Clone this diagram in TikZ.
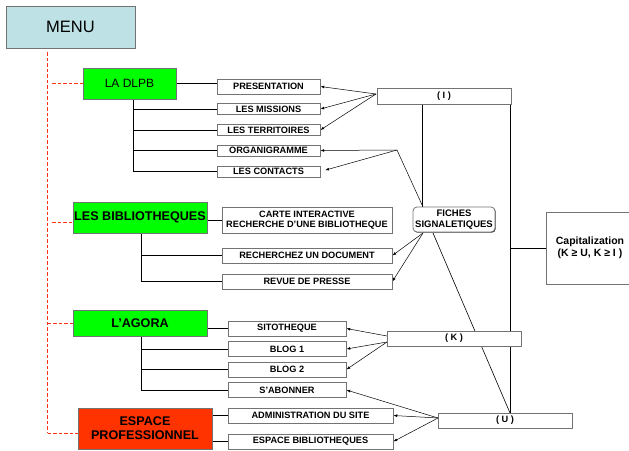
\documentclass[tikz,border=0pt]{standalone}
\usepackage{fontspec}
\setmainfont{Liberation Sans}
\usetikzlibrary{arrows.meta,backgrounds,shadows}
\definecolor{menublue}{RGB}{189,225,229}
\definecolor{limeg}{RGB}{0,255,0}
\definecolor{espred}{RGB}{255,51,0}
\definecolor{dashred}{RGB}{255,50,20}
\tikzset{
  bx/.style={draw=black!55, line width=0.8pt, fill=white, inner sep=0pt, align=center,
    font=\fontsize{9.2}{10.5}\selectfont\bfseries,
    drop shadow={shadow xshift=0.7pt,shadow yshift=-0.7pt,opacity=1,fill=black!85}},
  bigbx/.style={bx, font=\fontsize{12.6}{14}\selectfont\bfseries},
  txt/.style={inner sep=0pt, align=center, font=\fontsize{10.5}{12.5}\selectfont\bfseries},
  ln/.style={black, line width=0.8pt},
  arr/.style={black, line width=0.5pt, -{Latex[length=3.8pt,width=2.8pt]}},
  dsh/.style={draw=dashred, line width=1pt, dash pattern=on 3.5pt off 2pt},
}
\begin{document}
\begin{tikzpicture}[x=1pt,y=-1pt]
\useasboundingbox (0,0) rectangle (629,450);
% main nodes
\node[bx, fill=menublue, minimum width=129pt, minimum height=42pt, font=\fontsize{16.5}{18}\selectfont] (menu) at (70.5,27) {MENU};
\node[bx, fill=limeg, minimum width=93pt, minimum height=31pt, font=\fontsize{12}{14}\selectfont] (dlpb) at (129.5,83.5) {LA DLPB};
\node[bigbx, fill=limeg, minimum width=134pt, minimum height=31pt] (bib) at (140,217.5) {LES BIBLIOTHEQUES};
\node[bigbx, fill=limeg, minimum width=134pt, minimum height=26pt] (agora) at (140,323) {L'AGORA};
\node[bigbx, fill=espred, minimum width=134pt, minimum height=41pt] (esp) at (145,428.5) {ESPACE\\PROFESSIONNEL};
% sub boxes
\node[bx, minimum width=103pt, minimum height=15pt] (pres) at (268.5,86.5) {PRESENTATION};
\node[bx, minimum width=103pt, minimum height=11pt] (miss) at (268.5,109) {LES MISSIONS};
\node[bx, minimum width=103pt, minimum height=11pt] (terr) at (268.5,130) {LES TERRITOIRES};
\node[bx, minimum width=103pt, minimum height=11pt] (org) at (268.5,150.5) {ORGANIGRAMME};
\node[bx, minimum width=103pt, minimum height=11pt] (cont) at (268.5,171.5) {LES CONTACTS};
\node[bx, minimum width=170pt, minimum height=26pt] (carte) at (307,220) {CARTE INTERACTIVE\\RECHERCHE D'UNE BIBLIOTHEQUE};
\node[bx, minimum width=170pt, minimum height=15pt] (rech) at (307,255.5) {RECHERCHEZ UN DOCUMENT};
\node[bx, minimum width=170pt, minimum height=15pt] (revue) at (307,281.5) {REVUE DE PRESSE};
\node[bx, minimum width=118pt, minimum height=15pt] (sito) at (287,328.5) {SITOTHEQUE};
\node[bx, minimum width=118pt, minimum height=15pt] (blog1) at (287,349) {BLOG 1};
\node[bx, minimum width=118pt, minimum height=15pt] (blog2) at (287,369.5) {BLOG 2};
\node[bx, minimum width=118pt, minimum height=15pt] (abon) at (287,390) {S'ABONNER};
\node[bx, minimum width=165pt, minimum height=15pt] (admin) at (310.5,415.5) {ADMINISTRATION DU SITE};
\node[bx, minimum width=165pt, minimum height=15pt] (espbib) at (310.5,441.5) {ESPACE BIBLIOTHEQUES};
% right side
\node[bx, minimum width=134pt, minimum height=16pt] (I) at (444,96) {( I )};
\node[bx, rounded corners=4pt, minimum width=82pt, minimum height=25pt, font=\fontsize{9.5}{11}\selectfont\bfseries] (fiches) at (454,219.5) {FICHES\\SIGNALETIQUES};
\node[bx, minimum width=100pt, minimum height=72pt] (cap) at (596,248) {};
\node[txt] (captxt) at (590,248) {Capitalization\\(K ≥ U, K ≥ I )};
\node[bx, minimum width=134pt, minimum height=15pt] (K) at (454,338.5) {( K )};
\node[bx, minimum width=134pt, minimum height=15pt] (U) at (505,420.5) {( U )};
% helper coordinates
\coordinate (mtop) at (47.5,52);
\coordinate (mbot) at (47.5,433);
\coordinate (dv1) at (133,99);
\coordinate (dv2) at (141,233);
\coordinate (dv3) at (141,336);
\coordinate (iL) at (376,94);
\coordinate (oj) at (397,150);
\coordinate (ftl) at (423,207);
\coordinate (fbl) at (423,233);
\coordinate (fbr) at (433,233);
\coordinate (iv1) at (422,104);
\coordinate (iv2) at (510,104);
\coordinate (utop) at (510,413);
\coordinate (kL1) at (387,336);
\coordinate (kL2) at (387,342);
\coordinate (uL) at (438,418);
% dashed red tree
\draw[dsh] (mtop) -- (mbot);
\draw[dsh] (52,83.5) -- (dlpb.west);
\draw[dsh] (52,222) -- (bib.west |- 0,222);
\draw[dsh] (mtop |- agora.west) -- (agora.west);
\draw[dsh] (mbot) -- (mbot -| esp.west);
\begin{scope}[on background layer]
% LA DLPB branch
\draw[ln] (dlpb.east) -- (dlpb.east -| pres.west);
\draw[ln] (dv1) -- (dv1 |- cont.west) -- (cont.west);
\draw[ln] (dv1 |- miss.west) -- (miss.west);
\draw[ln] (dv1 |- terr.west) -- (terr.west);
\draw[ln] (dv1 |- org.west) -- (org.west);
% BIBLIOTHEQUES branch
\draw[ln] (bib.east |- carte.west) -- (carte.west);
\draw[ln] (dv2) -- (dv2 |- revue.west) -- (revue.west);
\draw[ln] (dv2 |- rech.west) -- (rech.west);
% AGORA branch
\draw[ln] (agora.east |- sito.west) -- (sito.west);
\draw[ln] (dv3) -- (dv3 |- abon.west) -- (abon.west);
\draw[ln] (dv3 |- blog1.west) -- (blog1.west);
\draw[ln] (dv3 |- blog2.west) -- (blog2.west);
% ESPACE PRO branch
\draw[ln] (esp.east |- admin.west) -- (admin.west);
\draw[ln] (esp.east |- espbib.west) -- (espbib.west);
% right structure
\draw[ln] (iv1) -- (iv1 |- fiches.north);
\draw[ln] (iv2) -- (utop);
\draw[ln] (iv2 |- cap.west) -- (cap.west);
\draw[black, line width=0.6pt] (fbr) -- (utop);
\draw[black, line width=0.5pt] (ftl) -- (oj);
% arrows
\draw[arr] (iL) -- (pres.east);
\draw[arr] (iL) -- (miss.east);
\draw[arr] (iL) -- (terr.east);
\draw[arr] (oj) -- (org.east);
\draw[arr, shorten >=5pt] (oj) -- (cont.east);
\draw[arr] (fbl) -- (rech.east);
\draw[arr] (fbl) -- (revue.east);
\draw[arr] (kL1) -- (sito.east);
\draw[arr] (kL2) -- (blog1.east);
\draw[arr] (kL2) -- (blog2.east);
\draw[arr] (uL) -- (abon.east);
\draw[arr] (uL) -- (admin.east);
\draw[arr] (uL) -- (espbib.east);
\end{scope}
\end{tikzpicture}
\end{document}
